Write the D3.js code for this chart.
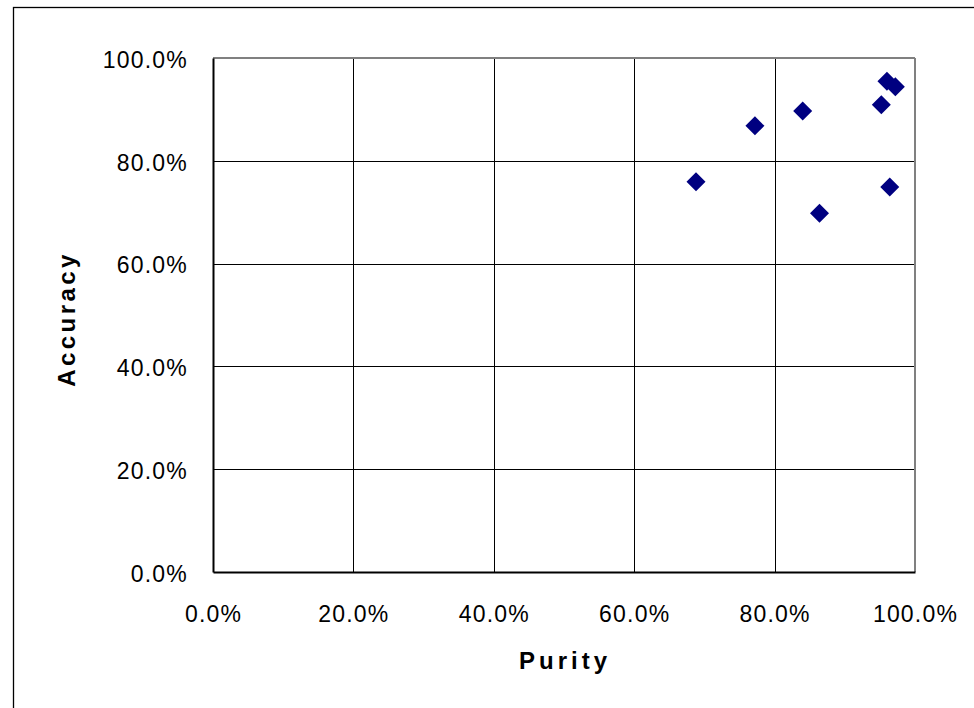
<!DOCTYPE html>
<html>
<head>
<meta charset="utf-8">
<script src="https://cdn.jsdelivr.net/npm/d3@7"></script>
<style>
  html, body { margin: 0; padding: 0; background: #fff; }
  svg { display: block; }
</style>
</head>
<body>
<svg id="chart" width="974" height="708"></svg>
<script>
const purity   = [0.688, 0.772, 0.840, 0.864, 0.952, 0.960, 0.964, 0.972];
const accuracy = [0.759, 0.868, 0.897, 0.698, 0.909, 0.955, 0.749, 0.944];
const xTicks = [0, 0.2, 0.4, 0.6, 0.8, 1.0];
const yTicks = [0, 0.2, 0.4, 0.6, 0.8, 1.0];
const xTitle = "Purity";
const yTitle = "Accuracy";

(function () {
const svg = d3.select("#chart");
const pL = 213, pR = 915, pT = 58, pB = 572;
const x = d3.scaleLinear().domain([0, 1]).range([pL, pR]);
const y = d3.scaleLinear().domain([0, 1]).range([pB, pT]);
const fmt = d3.format(".1%");

// outer chart border
svg.append("rect").attr("x", 13.5).attr("y", 7.5).attr("width", 1200).attr("height", 1200)
  .attr("fill", "none").attr("stroke", "#000").attr("stroke-width", 1.3);

// gridlines
svg.append("g").selectAll("line").data(xTicks.slice(1, -1)).join("line")
  .attr("x1", d => Math.round(x(d)) + 0.5).attr("x2", d => Math.round(x(d)) + 0.5)
  .attr("y1", pT).attr("y2", pB).attr("stroke", "#000").attr("stroke-width", 1);
svg.append("g").selectAll("line").data(yTicks.slice(1, -1)).join("line")
  .attr("y1", d => Math.round(y(d)) + 0.5).attr("y2", d => Math.round(y(d)) + 0.5)
  .attr("x1", pL).attr("x2", pR).attr("stroke", "#000").attr("stroke-width", 1);

// plot frame: top & right grey
svg.append("line").attr("x1", pL).attr("x2", pR).attr("y1", pT).attr("y2", pT)
  .attr("stroke", "#808080").attr("stroke-width", 2);
svg.append("line").attr("x1", pR).attr("x2", pR).attr("y1", pT).attr("y2", pB)
  .attr("stroke", "#808080").attr("stroke-width", 2);

// axes (no visible ticks)
const xAxis = svg.append("g").attr("transform", `translate(0,${pB})`)
  .call(d3.axisBottom(x).tickValues(xTicks).tickFormat(fmt).tickSize(0).tickPadding(34));
const yAxis = svg.append("g").attr("transform", `translate(${pL},0)`)
  .call(d3.axisLeft(y).tickValues(yTicks).tickFormat(fmt).tickSize(0).tickPadding(25));
[xAxis, yAxis].forEach(a => {
  a.select(".domain").attr("stroke", "#000").attr("stroke-width", 2);
  a.selectAll("text").attr("font-family", "Liberation Sans, Arial, sans-serif")
    .attr("font-size", 23).attr("fill", "#000").style("letter-spacing", "1.2px");
});
yAxis.selectAll("text").attr("dy", "0.4em");

// axis titles
svg.append("text").attr("x", 565).attr("y", 669).attr("text-anchor", "middle")
  .attr("font-family", "Liberation Sans, Arial, sans-serif").attr("font-weight", "bold")
  .attr("font-size", 24).style("letter-spacing", "4px").text(xTitle);
svg.append("text").attr("transform", "translate(75,319) rotate(-90)").attr("text-anchor", "middle")
  .attr("font-family", "Liberation Sans, Arial, sans-serif").attr("font-weight", "bold")
  .attr("font-size", 24).style("letter-spacing", "3.4px").text(yTitle);

// markers
const r = 9.5;
const diamond = `M0,${-r}L${r},0L0,${r}L${-r},0Z`;
svg.append("g").selectAll("path").data(purity.map((p, i) => [p, accuracy[i]])).join("path")
  .attr("d", diamond)
  .attr("transform", d => `translate(${x(d[0])},${y(d[1])})`)
  .attr("fill", "#000080");
})();
</script>
</body>
</html>
